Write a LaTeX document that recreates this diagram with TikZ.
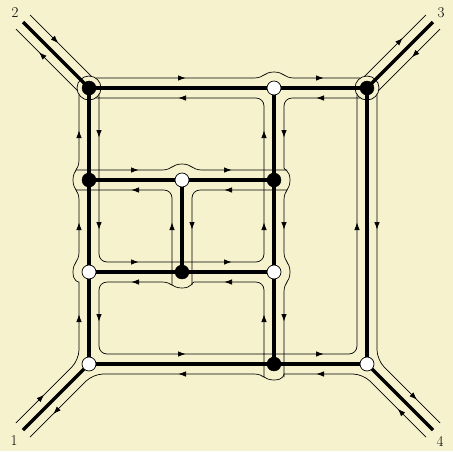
\documentclass[tikz,border=0pt]{standalone}
\usetikzlibrary{arrows.meta}
\definecolor{bg}{RGB}{246,242,206}
\newcommand\tip[4]{\draw[lane,-{Latex[length=7.5pt,width=5.5pt]}] ({#1-2*(#3)},{#2-2*(#4)}) -- ({#1+3.5*(#3)},{#2+3.5*(#4)});}
\begin{document}
\begin{tikzpicture}[x=1pt,y=-1pt,
  road/.style={line width=3.2pt},
  lane/.style={line width=0.7pt},
  rc/.style={rounded corners=8pt},
  bnode/.style={circle,fill=black,draw=black,inner sep=0pt,minimum size=14pt},
  wnode/.style={circle,fill=white,draw=black,line width=0.7pt,inner sep=0pt,minimum size=14pt},
  ring/.style={line width=0.7pt},
  lbl/.style={font=\fontsize{15}{15}\selectfont,inner sep=0pt}]
\fill[bg] (0,0) rectangle (453,451);
\useasboundingbox (0,0) rectangle (453,451);
% junction points
\coordinate (p11) at (89,88);  \coordinate (p31) at (274,88); \coordinate (p41) at (367,88);
\coordinate (p12) at (89,180); \coordinate (p22) at (182,180); \coordinate (p32) at (274,180);
\coordinate (p13) at (89,272); \coordinate (p23) at (182,272); \coordinate (p33) at (274,272);
\coordinate (p14) at (89,364); \coordinate (p34) at (274,364); \coordinate (p44) at (367,364);
\coordinate (e2) at (23,22); \coordinate (e3) at (433,22);
\coordinate (e1) at (23,430); \coordinate (e4) at (433,430);
% roads
\draw[road] (p11) -- (p41) -- (p44) -- (p14) -- cycle;
\draw[road] (p31) -- (p34);
\draw[road] (p12) -- (p32);
\draw[road] (p13) -- (p33);
\draw[road] (p22) -- (p23);
\draw[road] (e2) -- (p11);
\draw[road] (e3) -- (p41);
\draw[road] (e1) -- (p14);
\draw[road] (e4) -- (p44);
% rings at the two black corner junctions
\foreach \p in {p11,p41} \draw[ring] (\p) circle[radius=12pt];
% inner lanes
\draw[lane,rc] (99,94.6) -- (99,262) -- (264,262) -- (264,98) -- (95.6,98);
\draw[lane] (76,170) -- (162,170) .. controls (172,170) and (172,164) .. (182,164) .. controls (192,164) and (192,170) .. (202,170) -- (287,170);
\draw[lane,rc] (172,285) -- (172,190) -- (76,190);
\draw[lane,rc] (287,190) -- (192,190) -- (192,285);
\draw[lane] (360.4,98) [rc] -- (284,98) -- (284,160) [sharp corners] .. controls (284,170) and (290,170) .. (290,180) .. controls (290,190) and (284,190) .. (284,200) -- (284,252) .. controls (284,262) and (290,262) .. (290,272) .. controls (290,282) and (284,282) .. (284,292) -- (284,377);
\draw[lane] (264,377) [rc] -- (264,282) -- (202,282) [sharp corners] .. controls (192,282) and (192,288) .. (182,288) .. controls (172,288) and (172,282) .. (162,282) [rc] -- (99,282) -- (99,354) -- (357,354) -- (357,94.6);
% outer: top
\draw[lane] (30.07,14.93) -- (91.4,76.26);
\draw[lane] (95.6,78) -- (254,78) .. controls (264,78) and (264,72) .. (274,72) .. controls (284,72) and (284,78) .. (294,78) -- (360.4,78);
\draw[lane] (364.6,76.26) -- (425.93,14.93);
% outer: right
\draw[lane] (440.07,29.07) -- (378.7,90.4);
\draw[lane,rounded corners=10pt] (377,94.6) -- (377,359.86) -- (440.07,422.93);
% outer: bottom
\draw[lane] (425.93,437.07) [rounded corners=10pt] -- (362.86,374) -- (294,374) [sharp corners] .. controls (284,374) and (284,380) .. (274,380) .. controls (264,380) and (264,374) .. (254,374) [rounded corners=10pt] -- (93.14,374) -- (30.07,437.07);
% outer: left
\draw[lane] (15.93,422.93) [rounded corners=10pt] -- (79,359.86) -- (79,292) [sharp corners] .. controls (79,282) and (73,282) .. (73,272) .. controls (73,262) and (79,262) .. (79,252) -- (79,200) .. controls (79,190) and (73,190) .. (73,180) .. controls (73,170) and (79,170) .. (79,160) -- (79,94.6);
\draw[lane] (77.26,90.4) -- (15.93,29.07);
% arrow tips, horizontal
\tip{182}{78}{1}{0} \tip{320}{78}{1}{0}
\tip{182}{98}{-1}{0} \tip{320}{98}{-1}{0}
\tip{135}{170}{1}{0} \tip{228}{170}{1}{0}
\tip{135}{190}{-1}{0} \tip{228}{190}{-1}{0}
\tip{135}{262}{1}{0} \tip{228}{262}{1}{0}
\tip{135}{282}{-1}{0} \tip{228}{282}{-1}{0}
\tip{182}{354}{1}{0} \tip{320}{354}{1}{0}
\tip{182}{374}{-1}{0} \tip{320}{374}{-1}{0}
% vertical
\tip{79}{134}{0}{-1} \tip{79}{226}{0}{-1} \tip{79}{318}{0}{-1}
\tip{99}{134}{0}{1} \tip{99}{226}{0}{1} \tip{99}{318}{0}{1}
\tip{172}{226}{0}{-1} \tip{192}{226}{0}{1}
\tip{264}{134}{0}{-1} \tip{264}{226}{0}{-1} \tip{264}{318}{0}{-1}
\tip{284}{134}{0}{1} \tip{284}{226}{0}{1} \tip{284}{318}{0}{1}
\tip{357}{226}{0}{-1} \tip{377}{226}{0}{1}
% diagonal
\tip{55.8}{40.6}{0.707}{0.707} \tip{41.6}{54.8}{-0.707}{-0.707}
\tip{400.2}{40.6}{0.707}{-0.707} \tip{414.4}{54.8}{-0.707}{0.707}
\tip{41.6}{397.2}{0.707}{-0.707} \tip{55.8}{411.4}{-0.707}{0.707}
\tip{414.4}{397.2}{0.707}{0.707} \tip{400.2}{411.4}{-0.707}{-0.707}
% junctions
\node[bnode] (n11) at (p11) {};
\node[wnode] (n31) at (p31) {};
\node[bnode] (n41) at (p41) {};
\node[bnode] (n12) at (p12) {};
\node[wnode] (n22) at (p22) {};
\node[bnode] (n32) at (p32) {};
\node[wnode] (n13) at (p13) {};
\node[bnode] (n23) at (p23) {};
\node[wnode] (n33) at (p33) {};
\node[wnode] (n14) at (p14) {};
\node[bnode] (n34) at (p34) {};
\node[wnode] (n44) at (p44) {};
% labels
\node[lbl] (l2) at (15,13) {2};
\node[lbl] (l3) at (441,13) {3};
\node[lbl] (l1) at (14,441) {1};
\node[lbl] (l4) at (440,441) {4};
\end{tikzpicture}
\end{document}
